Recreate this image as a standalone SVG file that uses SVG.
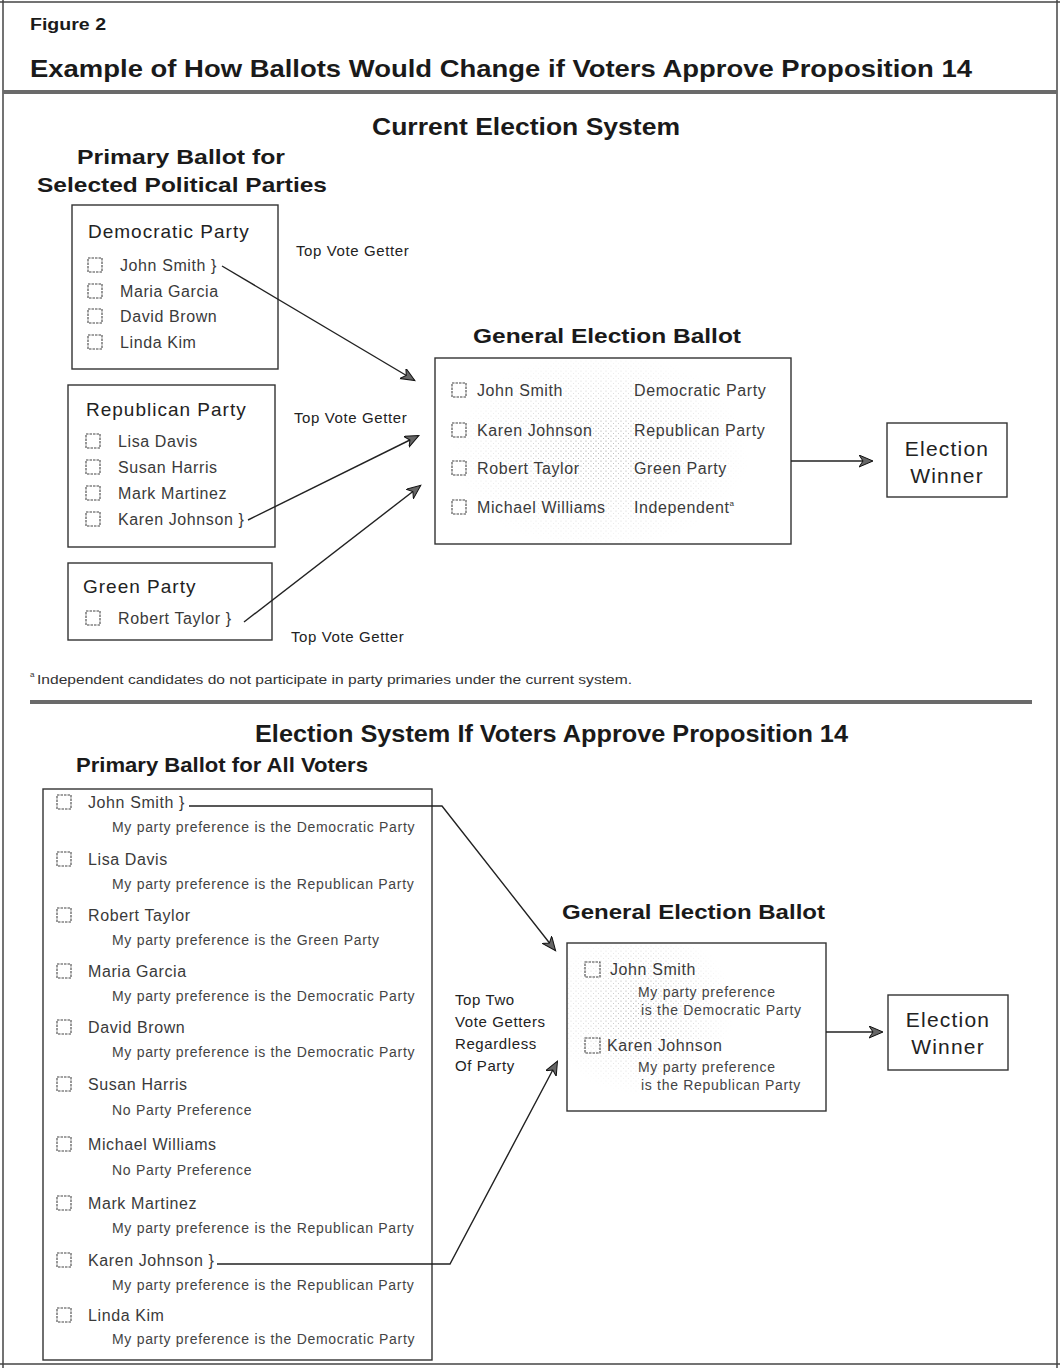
<svg xmlns="http://www.w3.org/2000/svg" width="1060" height="1368" viewBox="0 0 1060 1368">
<style>
text{font-family:"Liberation Sans",Arial,Helvetica,sans-serif}
.fig{font-size:16px;font-weight:bold;fill:#1a1a1a}
.h1{font-size:24px;font-weight:bold;fill:#1a1a1a}
.h2{font-size:21px;font-weight:bold;fill:#1a1a1a}
.party{font-size:19px;fill:#222;letter-spacing:1px}
.name{font-size:16px;fill:#3a3a3a;letter-spacing:0.6px}
.sub{font-size:14px;fill:#444;letter-spacing:0.7px}
.lbl{font-size:15px;fill:#222;letter-spacing:0.6px}
.win{font-size:21px;fill:#222;letter-spacing:1.2px}
.foot{font-size:12.5px;fill:#333}
.sup{font-size:8px;fill:#333}
.box{fill:#fff;stroke:#333;stroke-width:1.4}
.cb{fill:none;stroke:#444;stroke-width:1.1;stroke-dasharray:2.5 1}
.conn{fill:none;stroke:#222;stroke-width:1.4}
.rule{fill:#6a6a6a}
.frame{stroke:#444;stroke-width:1.5;fill:none}
</style>
<defs>
<marker id="arr" markerUnits="userSpaceOnUse" markerWidth="16" markerHeight="14" refX="13" refY="6" orient="auto">
<path d="M0,0 L14,6 L0,12 L4,6 Z" fill="#666" stroke="#111" stroke-width="1"/>
</marker>
<pattern id="dots" width="5" height="5" patternUnits="userSpaceOnUse">
<circle cx="1" cy="1" r="0.6" fill="#777"/>
<circle cx="3.5" cy="3.5" r="0.5" fill="#999"/>
</pattern>
<radialGradient id="fade">
<stop offset="0" stop-color="#fff" stop-opacity="0.9"/>
<stop offset="1" stop-color="#000"/>
</radialGradient>
<mask id="m1"><ellipse cx="600" cy="450" rx="150" ry="100" fill="url(#fade)"/></mask>
<mask id="m2"><ellipse cx="640" cy="1010" rx="95" ry="85" fill="url(#fade)"/></mask>
</defs>

<g id="frame">
<line class="frame" x1="0" y1="2" x2="1060" y2="2"/>
<line class="frame" x1="3" y1="0" x2="3" y2="1368"/>
<line class="frame" x1="1057" y1="0" x2="1057" y2="1368"/>
<line class="frame" x1="0" y1="1364" x2="1060" y2="1364"/>
<rect class="rule" x="3" y="90" width="1054" height="4"/>
<rect class="rule" x="30" y="700" width="1002" height="4"/>
</g>

<g id="header">
<text class="fig" x="30" y="30" textLength="76" lengthAdjust="spacingAndGlyphs">Figure 2</text>
<text class="h1" x="30" y="77" textLength="942" lengthAdjust="spacingAndGlyphs">Example of How Ballots Would Change if Voters Approve Proposition 14</text>
</g>

<g id="current-title">
<text class="h1" x="372" y="135" textLength="308" lengthAdjust="spacingAndGlyphs">Current Election System</text>
</g>

<g id="primary-title">
<text class="h2" x="77" y="164" textLength="208" lengthAdjust="spacingAndGlyphs">Primary Ballot for</text>
<text class="h2" x="37" y="192" textLength="290" lengthAdjust="spacingAndGlyphs">Selected Political Parties</text>
</g>

<g id="democratic-box">
<rect class="box" x="72" y="205" width="206" height="164"/>
<text class="party" x="88" y="238">Democratic Party</text>
<rect class="cb" x="88" y="258" width="14" height="14"/>
<text class="name" x="120" y="271">John Smith }</text>
<rect class="cb" x="88" y="284" width="14" height="14"/>
<text class="name" x="120" y="297">Maria Garcia</text>
<rect class="cb" x="88" y="309" width="14" height="14"/>
<text class="name" x="120" y="322">David Brown</text>
<rect class="cb" x="88" y="335" width="14" height="14"/>
<text class="name" x="120" y="348">Linda Kim</text>
</g>

<g id="republican-box">
<rect class="box" x="68" y="385" width="207" height="162"/>
<text class="party" x="86" y="416">Republican Party</text>
<rect class="cb" x="86" y="434" width="14" height="14"/>
<text class="name" x="118" y="447">Lisa Davis</text>
<rect class="cb" x="86" y="460" width="14" height="14"/>
<text class="name" x="118" y="473">Susan Harris</text>
<rect class="cb" x="86" y="486" width="14" height="14"/>
<text class="name" x="118" y="499">Mark Martinez</text>
<rect class="cb" x="86" y="512" width="14" height="14"/>
<text class="name" x="118" y="525">Karen Johnson }</text>
</g>

<g id="green-box">
<rect class="box" x="68" y="563" width="204" height="77"/>
<text class="party" x="83" y="593">Green Party</text>
<rect class="cb" x="86" y="611" width="14" height="14"/>
<text class="name" x="118" y="624">Robert Taylor }</text>
</g>

<g id="top-vote-labels">
<text class="lbl" x="296" y="256">Top Vote Getter</text>
<text class="lbl" x="294" y="423">Top Vote Getter</text>
<text class="lbl" x="291" y="642">Top Vote Getter</text>
</g>

<g id="general-ballot-current">
<text class="h2" x="473" y="343" textLength="268" lengthAdjust="spacingAndGlyphs">General Election Ballot</text>
<rect class="box" x="435" y="358" width="356" height="186"/>
<rect x="436" y="359" width="354" height="184" fill="url(#dots)" mask="url(#m1)"/>
<rect class="cb" x="452" y="383" width="14" height="14"/>
<text class="name" x="477" y="396">John Smith</text>
<text class="name" x="634" y="396">Democratic Party</text>
<rect class="cb" x="452" y="423" width="14" height="14"/>
<text class="name" x="477" y="436">Karen Johnson</text>
<text class="name" x="634" y="436">Republican Party</text>
<rect class="cb" x="452" y="461" width="14" height="14"/>
<text class="name" x="477" y="474">Robert Taylor</text>
<text class="name" x="634" y="474">Green Party</text>
<rect class="cb" x="452" y="500" width="14" height="14"/>
<text class="name" x="477" y="513">Michael Williams</text>
<text class="name" x="634" y="513">Independent<tspan class="sup" dy="-7">a</tspan></text>
</g>

<g id="winner-current">
<rect class="box" x="887" y="423" width="120" height="74"/>
<text class="win" x="947" y="456" text-anchor="middle">Election</text>
<text class="win" x="947" y="483" text-anchor="middle">Winner</text>
</g>

<g id="footnote">
<text class="sup" x="30" y="677">a</text>
<text class="foot" x="37" y="684" textLength="595" lengthAdjust="spacingAndGlyphs">Independent candidates do not participate in party primaries under the current system.</text>
</g>

<g id="proposal-title">
<text class="h1" x="255" y="742" textLength="593" lengthAdjust="spacingAndGlyphs">Election System If Voters Approve Proposition 14</text>
<text class="h2" x="76" y="772" textLength="292" lengthAdjust="spacingAndGlyphs">Primary Ballot for All Voters</text>
</g>

<g id="all-voters-box">
<rect class="box" x="43" y="789" width="389" height="571"/>
<rect class="cb" x="57" y="795" width="14" height="14"/>
<text class="name" x="88" y="808">John Smith }</text>
<text class="sub" x="112" y="832">My party preference is the Democratic Party</text>
<rect class="cb" x="57" y="852" width="14" height="14"/>
<text class="name" x="88" y="865">Lisa Davis</text>
<text class="sub" x="112" y="889">My party preference is the Republican Party</text>
<rect class="cb" x="57" y="908" width="14" height="14"/>
<text class="name" x="88" y="921">Robert Taylor</text>
<text class="sub" x="112" y="945">My party preference is the Green Party</text>
<rect class="cb" x="57" y="964" width="14" height="14"/>
<text class="name" x="88" y="977">Maria Garcia</text>
<text class="sub" x="112" y="1001">My party preference is the Democratic Party</text>
<rect class="cb" x="57" y="1020" width="14" height="14"/>
<text class="name" x="88" y="1033">David Brown</text>
<text class="sub" x="112" y="1057">My party preference is the Democratic Party</text>
<rect class="cb" x="57" y="1077" width="14" height="14"/>
<text class="name" x="88" y="1090">Susan Harris</text>
<text class="sub" x="112" y="1115">No Party Preference</text>
<rect class="cb" x="57" y="1137" width="14" height="14"/>
<text class="name" x="88" y="1150">Michael Williams</text>
<text class="sub" x="112" y="1175">No Party Preference</text>
<rect class="cb" x="57" y="1196" width="14" height="14"/>
<text class="name" x="88" y="1209">Mark Martinez</text>
<text class="sub" x="112" y="1233">My party preference is the Republican Party</text>
<rect class="cb" x="57" y="1253" width="14" height="14"/>
<text class="name" x="88" y="1266">Karen Johnson }</text>
<text class="sub" x="112" y="1290">My party preference is the Republican Party</text>
<rect class="cb" x="57" y="1308" width="14" height="14"/>
<text class="name" x="88" y="1321">Linda Kim</text>
<text class="sub" x="112" y="1344">My party preference is the Democratic Party</text>
</g>

<g id="top-two-label">
<text class="lbl" x="455" y="1005">Top Two</text>
<text class="lbl" x="455" y="1027">Vote Getters</text>
<text class="lbl" x="455" y="1049">Regardless</text>
<text class="lbl" x="455" y="1071">Of Party</text>
</g>

<g id="general-ballot-proposal">
<text class="h2" x="562" y="919" textLength="263" lengthAdjust="spacingAndGlyphs">General Election Ballot</text>
<rect class="box" x="567" y="943" width="259" height="168"/>
<rect x="568" y="944" width="257" height="166" fill="url(#dots)" mask="url(#m2)"/>
<rect class="cb" x="585" y="962" width="15" height="15"/>
<text class="name" x="610" y="975">John Smith</text>
<text class="sub" x="638" y="997">My party preference</text>
<text class="sub" x="641" y="1015">is the Democratic Party</text>
<rect class="cb" x="585" y="1038" width="15" height="15"/>
<text class="name" x="607" y="1051">Karen Johnson</text>
<text class="sub" x="638" y="1072">My party preference</text>
<text class="sub" x="641" y="1090">is the Republican Party</text>
</g>

<g id="winner-proposal">
<rect class="box" x="888" y="995" width="120" height="75"/>
<text class="win" x="948" y="1027" text-anchor="middle">Election</text>
<text class="win" x="948" y="1054" text-anchor="middle">Winner</text>
</g>

<g id="connectors">
<path class="conn" d="M222,266 L414,380" marker-end="url(#arr)"/>
<path class="conn" d="M248,520 L418,436" marker-end="url(#arr)"/>
<path class="conn" d="M244,622 L420,486" marker-end="url(#arr)"/>
<path class="conn" d="M791,461 L872,461" marker-end="url(#arr)"/>
<path class="conn" d="M189,806 L442,806 L555,950" marker-end="url(#arr)"/>
<path class="conn" d="M217,1264 L450,1264 L557,1062" marker-end="url(#arr)"/>
<path class="conn" d="M826,1032 L882,1032" marker-end="url(#arr)"/>
</g>
</svg>
